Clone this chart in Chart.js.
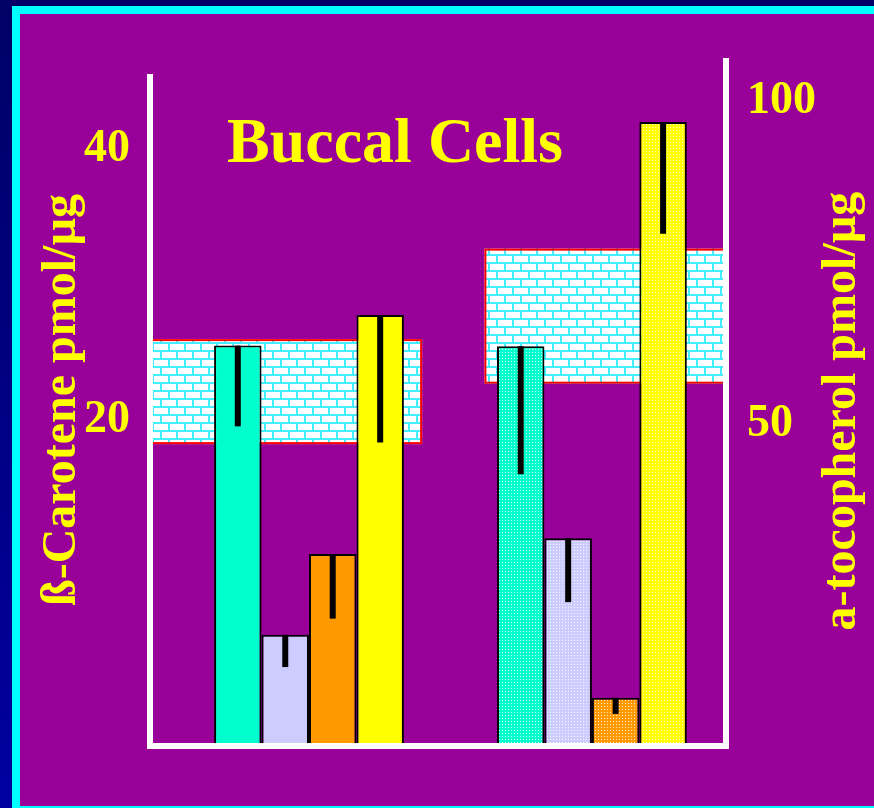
<!DOCTYPE html>
<html>
<head>
<meta charset="utf-8">
<script src="https://cdn.jsdelivr.net/npm/chart.js@4.4.0/dist/chart.umd.min.js"></script>
<style>
  html, body { margin: 0; padding: 0; background: #000066; }
  #wrap { width: 874px; height: 808px; }
</style>
</head>
<body>
<div id="wrap"><canvas id="myChart" width="874" height="808"></canvas></div>
<script>
// data
const groups = ['ß-Carotene', 'a-Tocopherol'];
const groupPos = [1, 2];
const seriesNames = ['Group 1', 'Group 2', 'Group 3', 'Group 4'];
const caroteneValues = [24.6, 6.7, 11.7, 26.5];
const caroteneSD = [5.0, 2.0, 4.0, 7.9];
const tocopherolValues = [61.4, 31.7, 7.0, 96.1];
const tocopherolSD = [19.8, 9.9, 2.5, 17.3];
const caroteneNormal = [18.5, 25.0];
const tocopherolNormal = [55.6, 76.5];
const caroteneTicks = [20, 40];
const tocopherolTicks = [50, 100];

const seriesColors = ['#00FFCC', '#CCCCFF', '#FF9900', '#FFFF00'];
const YELLOW = '#FFFF00';
const SERIF = '"Liberation Serif", "Times New Roman", serif';

const canvas = document.querySelector('#myChart');
const ctx = canvas.getContext('2d');

function brickPattern() {
  const c = document.createElement('canvas');
  c.width = 16; c.height = 16;
  const g = c.getContext('2d');
  g.fillStyle = '#ffffff';
  g.fillRect(0, 0, 16, 16);
  g.fillStyle = '#44eeff';
  g.fillRect(0, 6, 16, 2);
  g.fillRect(0, 14, 16, 2);
  g.fillRect(0, 0, 2, 6);
  g.fillRect(8, 8, 2, 6);
  return ctx.createPattern(c, 'repeat');
}

function dotPattern(color) {
  const c = document.createElement('canvas');
  c.width = 3; c.height = 3;
  const g = c.getContext('2d');
  g.fillStyle = color;
  g.fillRect(0, 0, 3, 3);
  g.fillStyle = 'rgba(255,255,255,0.8)';
  g.fillRect(1, 1, 1, 1);
  return ctx.createPattern(c, 'repeat');
}

// one dataset per bar so each group can use its own y axis;
// the other group's slot is null so skipNull closes the gap
const datasets = [];
seriesNames.forEach((name, i) => {
  datasets.push({
    label: name + ' ' + groups[0],
    data: [{ x: groupPos[0], y: caroteneValues[i] }, { x: groupPos[1], y: null }],
    sd: [caroteneSD[i], null],
    yAxisID: 'yB',
    backgroundColor: seriesColors[i],
    borderColor: '#000000',
    borderWidth: 2
  });
});
seriesNames.forEach((name, i) => {
  datasets.push({
    label: name + ' ' + groups[1],
    data: [{ x: groupPos[0], y: null }, { x: groupPos[1], y: tocopherolValues[i] }],
    sd: [null, tocopherolSD[i]],
    yAxisID: 'yR',
    backgroundColor: dotPattern(seriesColors[i]),
    borderColor: '#000000',
    borderWidth: 2
  });
});

// normal ranges, x extents in x-scale units (null = plot edge)
const bands = [
  { axis: 'yB', range: caroteneNormal, from: null, to: 1.40 },
  { axis: 'yR', range: tocopherolNormal, from: 1.62, to: null }
];

const backgroundPlugin = {
  id: 'slideBackground',
  beforeDraw(chart) {
    const c = chart.ctx;
    const w = chart.width, h = chart.height;
    c.save();
    c.fillStyle = '#000066';
    c.fillRect(0, 0, w, h);
    const grad = c.createLinearGradient(0, 0, 0, h);
    grad.addColorStop(0, '#000066');
    grad.addColorStop(1, '#0000a0');
    c.fillStyle = grad;
    c.fillRect(0, 6, 12, h);
    c.fillStyle = '#00FFFF';
    c.fillRect(12, 6, w - 12, h - 6);
    c.fillStyle = '#990099';
    c.fillRect(20, 14, w - 20, h - 16);
    c.restore();
  }
};

const bandPlugin = {
  id: 'normalBands',
  beforeDatasetsDraw(chart) {
    const c = chart.ctx;
    const x = chart.scales.x;
    const area = chart.chartArea;
    const pat = brickPattern();
    c.save();
    bands.forEach(b => {
      const ys = chart.scales[b.axis];
      const x0 = b.from === null ? area.left : x.getPixelForValue(b.from);
      const x1 = b.to === null ? area.right : x.getPixelForValue(b.to);
      const y0 = ys.getPixelForValue(b.range[1]);
      const y1 = ys.getPixelForValue(b.range[0]);
      c.fillStyle = pat;
      c.fillRect(x0, y0, x1 - x0, y1 - y0);
      c.strokeStyle = '#FF0000';
      c.lineWidth = 2;
      c.strokeRect(x0 + 1, y0 + 1, x1 - x0 - 2, y1 - y0 - 2);
    });
    c.restore();
  }
};

// one-sided (downward) SD lines
const errorPlugin = {
  id: 'errorBars',
  afterDatasetsDraw(chart) {
    const c = chart.ctx;
    c.save();
    c.strokeStyle = '#000000';
    c.lineWidth = 6;
    chart.data.datasets.forEach((ds, i) => {
      const meta = chart.getDatasetMeta(i);
      const ys = chart.scales[ds.yAxisID];
      meta.data.forEach((el, j) => {
        const v = ds.data[j].y;
        if (v === null) return;
        const bottom = ys.getPixelForValue(v - ds.sd[j]);
        c.beginPath();
        c.moveTo(el.x, el.y);
        c.lineTo(el.x, bottom);
        c.stroke();
      });
    });
    c.restore();
  }
};

const framePlugin = {
  id: 'frameAndTitles',
  afterDraw(chart) {
    const c = chart.ctx;
    const a = chart.chartArea;
    c.save();
    c.strokeStyle = '#FFFFFF';
    c.lineWidth = 6;
    c.beginPath();
    c.moveTo(a.left, a.top + 16);
    c.lineTo(a.left, a.bottom + 6);
    c.moveTo(a.left - 3, a.bottom + 3);
    c.lineTo(a.right + 3, a.bottom + 3);
    c.moveTo(a.right, a.top);
    c.lineTo(a.right, a.bottom + 6);
    c.stroke();

    c.fillStyle = YELLOW;
    c.textAlign = 'center';
    c.textBaseline = 'alphabetic';
    c.font = 'bold 64px ' + SERIF;
    c.fillText('Buccal Cells', 395, 162);

    c.font = 'bold 48px ' + SERIF;
    c.save();
    c.translate(75, 400);
    c.rotate(-Math.PI / 2);
    c.fillText('ß-Carotene pmol/µg', 0, 0);
    c.restore();
    c.save();
    c.translate(855, 411);
    c.rotate(-Math.PI / 2);
    c.fillText('a-tocopherol pmol/µg', 0, 0);
    c.restore();
    c.restore();
  }
};

const tickFont = { family: SERIF, size: 46, weight: 'bold' };

function initChart(target) {
  return new Chart(target, {
    type: 'bar',
    data: { datasets: datasets },
    options: {
      responsive: false,
      animation: false,
      devicePixelRatio: 1,
      layout: { padding: { top: 58, bottom: 65, left: 0, right: 0 } },
      datasets: {
        bar: { skipNull: true, categoryPercentage: 0.671, barPercentage: 1 }
      },
      plugins: { legend: { display: false }, tooltip: { enabled: false } },
      scales: {
        x: {
          type: 'linear', display: false, min: 0.438, max: 2.474, offset: false,
          afterBuildTicks: s => { s.ticks = groupPos.map(v => ({ value: v })); }
        },
        yL: {
          type: 'linear', position: 'left', min: -4.18, max: 46.47,
          afterBuildTicks: s => { s.ticks = caroteneTicks.map(v => ({ value: v })); },
          afterFit: s => { s.width = 150; },
          grid: { display: false, drawTicks: false },
          border: { display: false },
          ticks: { color: YELLOW, font: tickFont, padding: 20, labelOffset: 4, callback: v => String(v) }
        },
        yB: { type: 'linear', display: false, min: 0, max: 42.4 },
        yR: {
          type: 'linear', position: 'right', min: 0, max: 106,
          afterBuildTicks: s => { s.ticks = tocopherolTicks.map(v => ({ value: v })); },
          afterFit: s => { s.width = 148; },
          grid: { display: false, drawTicks: false },
          border: { display: false },
          ticks: { color: YELLOW, font: tickFont, padding: 21, labelOffset: 4, callback: v => String(v) }
        }
      }
    },
    plugins: [backgroundPlugin, bandPlugin, errorPlugin, framePlugin]
  });
}

document.addEventListener('DOMContentLoaded', () => initChart(canvas));
</script>
</body>
</html>
